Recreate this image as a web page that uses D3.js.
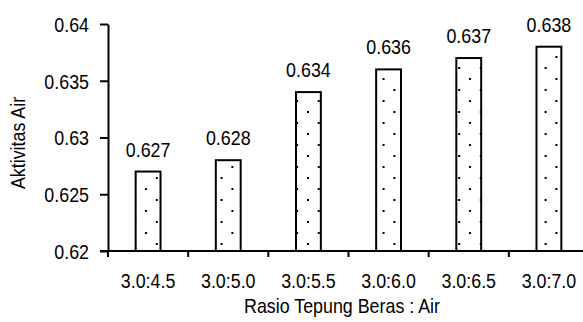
<!DOCTYPE html>
<html>
<head>
<meta charset="utf-8">
<script src="https://cdn.jsdelivr.net/npm/d3@7"></script>
<style>
  body { margin: 0; background: #fff; }
  text { font-family: "Liberation Sans", Arial, sans-serif; fill: #000; }
</style>
</head>
<body>
<svg id="chart" width="583" height="322"></svg>
<script>
// data
const categories = ['3.0:4.5', '3.0:5.0', '3.0:5.5', '3.0:6.0', '3.0:6.5', '3.0:7.0'];
const values = [0.627, 0.628, 0.634, 0.636, 0.637, 0.638];
const yTicks = [0.62, 0.625, 0.63, 0.635, 0.64];

const fontSize = 21;
const squeeze = 0.85; // the original font is a narrow Arial

const svg = d3.select('#chart');

const margin = { top: 24, right: -6, bottom: 71, left: 108 };
const width = 583 - margin.left - margin.right;
const height = 322 - margin.top - margin.bottom;

const graph = svg.append('g')
  .attr('transform', `translate(${margin.left}, ${margin.top})`);

// squeeze a text horizontally about its own anchor point
const narrow = (sel, ax, ay) =>
  sel.attr('x', 0).attr('y', 0)
    .attr('transform', (d, i) => `translate(${ax(d, i)}, ${ay(d, i)}) scale(${squeeze}, 1)`);

// dotted fill
const defs = svg.append('defs');
const pat = defs.append('pattern')
  .attr('id', 'dots')
  .attr('patternUnits', 'userSpaceOnUse')
  .attr('x', 145).attr('y', 186)
  .attr('width', 21.6).attr('height', 22);
pat.append('rect').attr('x', 0).attr('y', 0).attr('width', 2.4).attr('height', 2.4)
  .attr('fill', '#000').attr('shape-rendering', 'crispEdges');
pat.append('rect').attr('x', 10.8).attr('y', 11).attr('width', 2.4).attr('height', 2.4)
  .attr('fill', '#000').attr('shape-rendering', 'crispEdges');

const x = d3.scaleBand()
  .domain(categories)
  .range([0, width])
  .paddingInner(0.69)
  .paddingOuter(0.345);

const y = d3.scaleLinear()
  .domain([0.62, 0.64])
  .range([height, 0]);

// bars
graph.selectAll('rect.bar')
  .data(values)
  .enter()
  .append('rect')
  .attr('class', 'bar')
  .attr('x', (d, i) => x(categories[i]))
  .attr('y', d => y(d))
  .attr('width', x.bandwidth())
  .attr('height', d => height - y(d))
  .attr('fill', 'url(#dots)')
  .attr('stroke', '#000')
  .attr('stroke-width', 2);

// value labels
graph.selectAll('text.val')
  .data(values)
  .enter()
  .append('text')
  .attr('class', 'val')
  .attr('text-anchor', 'middle')
  .attr('font-size', fontSize)
  .text(d => d3.format('.3f')(d))
  .call(narrow, (d, i) => x(categories[i]) + x.bandwidth() / 2, d => y(d) - 15);

// y axis
const yAxis = d3.axisLeft(y)
  .tickValues(yTicks)
  .tickSize(8)
  .tickSizeOuter(0)
  .tickPadding(11)
  .tickFormat(d => String(+d.toFixed(3)));

const yAxisGroup = graph.append('g').call(yAxis);
yAxisGroup.attr('font-family', null).attr('font-size', null);
yAxisGroup.select('.domain').attr('stroke', '#000').attr('stroke-width', 2);
yAxisGroup.selectAll('.tick line').attr('stroke', '#000').attr('stroke-width', 2);
yAxisGroup.selectAll('.tick text')
  .attr('font-size', fontSize)
  .attr('dy', '0.35em')
  .call(narrow, () => -19, () => 0);

// x axis: line, boundary ticks, labels
const gap = (x.step() - x.bandwidth()) / 2;

graph.append('line')
  .attr('x1', -8).attr('x2', width)
  .attr('y1', height).attr('y2', height)
  .attr('stroke', '#000').attr('stroke-width', 2);

graph.selectAll('line.xtick')
  .data(categories)
  .enter()
  .append('line')
  .attr('class', 'xtick')
  .attr('x1', d => x(d) - gap).attr('x2', d => x(d) - gap)
  .attr('y1', height).attr('y2', height + 6)
  .attr('stroke', '#000').attr('stroke-width', 2);

graph.selectAll('text.xlab')
  .data(categories)
  .enter()
  .append('text')
  .attr('class', 'xlab')
  .attr('text-anchor', 'middle')
  .attr('font-size', fontSize)
  .text(d => d)
  .call(narrow, d => x(d) + x.bandwidth() / 2, () => height + 37);

// axis titles
svg.append('text')
  .attr('text-anchor', 'middle')
  .attr('font-size', fontSize)
  .text('Rasio Tepung Beras : Air')
  .attr('transform', `translate(342, 313) scale(${squeeze}, 1)`);

svg.append('text')
  .attr('text-anchor', 'middle')
  .attr('font-size', fontSize)
  .text('Aktivitas Air')
  .attr('transform', `translate(25, 143) rotate(-90) scale(${squeeze}, 1)`);
</script>
</body>
</html>
